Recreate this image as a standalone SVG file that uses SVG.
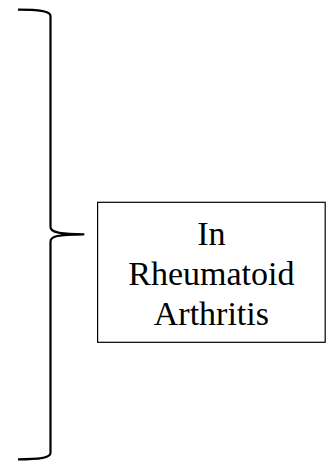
<svg xmlns="http://www.w3.org/2000/svg" width="334" height="462" viewBox="0 0 334 462">
<style>
.brace{fill:none;stroke:#000;stroke-width:2.2;stroke-linejoin:round}
.box{fill:#fff;stroke:#000;stroke-width:1.2}
.lbl{font-family:"Liberation Serif","Times New Roman",serif;font-size:34px;fill:#000;text-anchor:middle}
</style>
<rect width="334" height="462" fill="#fff"/>
<g id="connectors">
<path class="brace" d="M18,9.7 C40,9.7 50.5,11.5 50.5,16 V227 C50.5,232 58,234.3 83.5,234.3 C58,234.3 50.5,236.5 50.5,241.5 V453 C50.5,457.5 40,459.3 18,459.3"/>
</g>
<g id="node-ra">
<rect class="box" x="97.6" y="202.3" width="227.6" height="140"/>
<text class="lbl" x="211.4" y="245">In</text>
<text class="lbl" x="211.4" y="284.5">Rheumatoid</text>
<text class="lbl" x="211.4" y="325">Arthritis</text>
</g>
</svg>
